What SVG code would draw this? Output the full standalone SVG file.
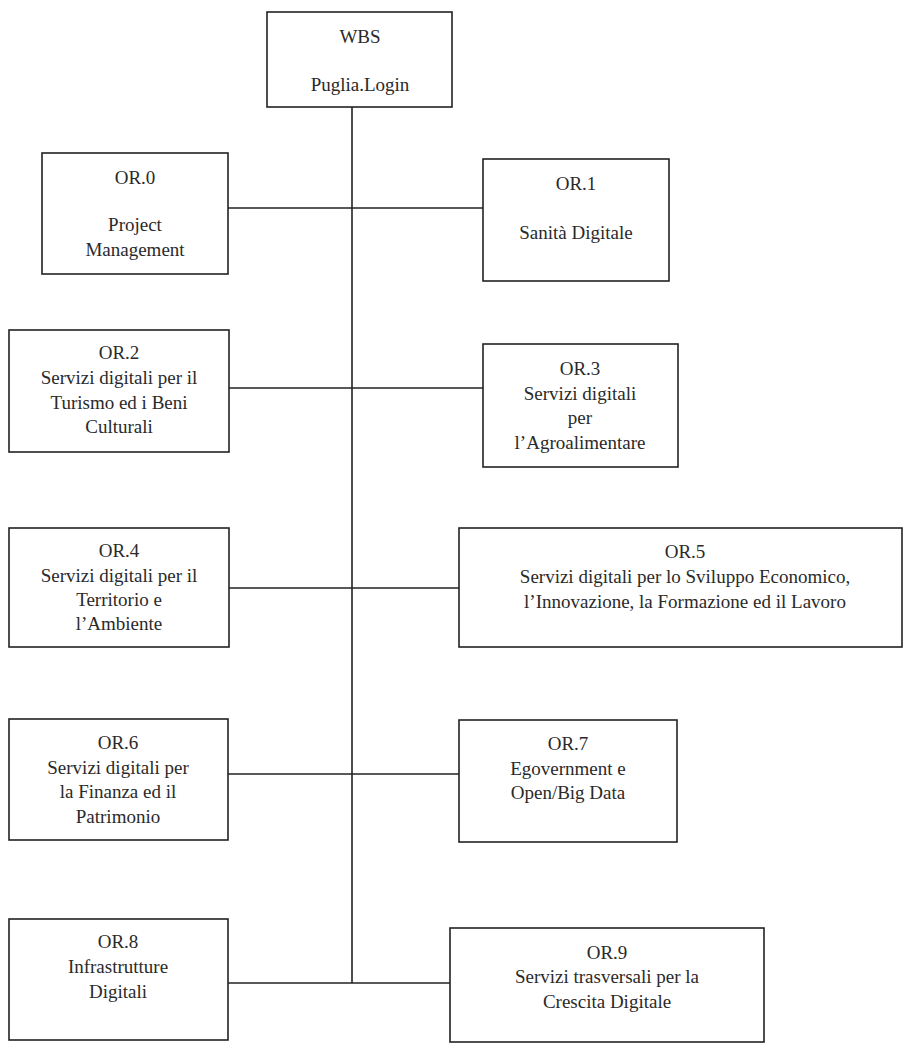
<svg xmlns="http://www.w3.org/2000/svg" width="904" height="1045" viewBox="0 0 904 1045">
<style>
.box{fill:#fff;stroke:#222;stroke-width:1.6}
.ln{stroke:#222;stroke-width:1.6;fill:none}
text{font-family:"Liberation Serif","Times New Roman",serif;font-size:19px;fill:#2a2a2a;text-anchor:middle}
</style>
<rect width="904" height="1045" fill="#fff"/>
<g id="connectors">
<line class="ln" x1="352" y1="107" x2="352" y2="983"/>
<line class="ln" x1="228" y1="208" x2="483" y2="208"/>
<line class="ln" x1="229" y1="388" x2="483" y2="388"/>
<line class="ln" x1="229" y1="588" x2="459" y2="588"/>
<line class="ln" x1="228" y1="774" x2="459" y2="774"/>
<line class="ln" x1="228" y1="983" x2="450" y2="983"/>
</g>
<g id="wbs">
<rect class="box" x="267" y="12" width="185" height="95"/>
<text x="360" y="43">WBS</text>
<text x="360" y="91">Puglia.Login</text>
</g>
<g id="or0">
<rect class="box" x="42" y="153" width="186" height="121"/>
<text x="135" y="184">OR.0</text>
<text x="135" y="231">Project</text>
<text x="135" y="256">Management</text>
</g>
<g id="or1">
<rect class="box" x="483" y="159" width="186" height="122"/>
<text x="576" y="190">OR.1</text>
<text x="576" y="239">Sanità Digitale</text>
</g>
<g id="or2">
<rect class="box" x="9" y="330" width="220" height="122"/>
<text x="119" y="359">OR.2</text>
<text x="119" y="384">Servizi digitali per il</text>
<text x="119" y="409">Turismo ed i Beni</text>
<text x="119" y="433">Culturali</text>
</g>
<g id="or3">
<rect class="box" x="483" y="344" width="195" height="123"/>
<text x="580" y="375">OR.3</text>
<text x="580" y="400">Servizi digitali</text>
<text x="580" y="424">per</text>
<text x="580" y="449">l’Agroalimentare</text>
</g>
<g id="or4">
<rect class="box" x="9" y="528" width="220" height="119"/>
<text x="119" y="557">OR.4</text>
<text x="119" y="582">Servizi digitali per il</text>
<text x="119" y="606">Territorio e</text>
<text x="119" y="630">l’Ambiente</text>
</g>
<g id="or5">
<rect class="box" x="459" y="528" width="443" height="119"/>
<text x="685" y="558">OR.5</text>
<text x="685" y="583">Servizi digitali per lo Sviluppo Economico,</text>
<text x="685" y="608">l’Innovazione, la Formazione ed il Lavoro</text>
</g>
<g id="or6">
<rect class="box" x="9" y="719" width="219" height="121"/>
<text x="118" y="749">OR.6</text>
<text x="118" y="774">Servizi digitali per</text>
<text x="118" y="798">la Finanza ed il</text>
<text x="118" y="823">Patrimonio</text>
</g>
<g id="or7">
<rect class="box" x="459" y="720" width="218" height="122"/>
<text x="568" y="750">OR.7</text>
<text x="568" y="775">Egovernment e</text>
<text x="568" y="799">Open/Big Data</text>
</g>
<g id="or8">
<rect class="box" x="9" y="919" width="219" height="121"/>
<text x="118" y="948">OR.8</text>
<text x="118" y="973">Infrastrutture</text>
<text x="118" y="998">Digitali</text>
</g>
<g id="or9">
<rect class="box" x="450" y="928" width="314" height="114"/>
<text x="607" y="959">OR.9</text>
<text x="607" y="983">Servizi trasversali per la</text>
<text x="607" y="1008">Crescita Digitale</text>
</g>
</svg>
